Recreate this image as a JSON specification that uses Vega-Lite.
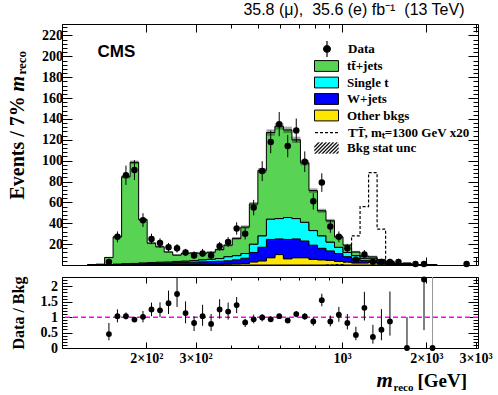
{
"$schema": "https://vega.github.io/schema/vega-lite/v6.json",
"background": "white",
"padding": {"left": 6, "top": 1, "right": 0, "bottom": 0},
"spacing": -4,
"config": {
 "view": {"stroke": "#000", "strokeWidth": 1},
 "axis": {"grid": false, "domain": false, "labelFont": "Liberation Serif", "labelFontWeight": "bold", "labelFontSize": 14, "labelColor": "#000", "tickColor": "#000", "tickWidth": 1, "titleFont": "Liberation Serif", "titleFontWeight": "bold", "titleColor": "#000", "labelOverlap": false, "labelFlush": false, "labelBound": false},
 "legend": {"labelFont": "Liberation Serif", "labelFontWeight": "bold", "labelFontSize": 13, "labelColor": "#000", "padding": 0, "labelLimit": 300}
},
"datasets": {
 "bins": [
  {"lo":123.379,"hi":132.329,"other":0,"wjets":0,"singlet":0,"ttbar":0},
  {"lo":132.329,"hi":141.929,"other":0,"wjets":0.3,"singlet":0.3,"ttbar":0,"bkg_lo":0.4,"bkg_hi":0.8},
  {"lo":141.929,"hi":152.225,"other":0,"wjets":0.2,"singlet":0.2,"ttbar":6.8,"bkg_lo":6.6,"bkg_hi":7.8},
  {"lo":152.225,"hi":163.268,"other":0.2,"wjets":0.4,"singlet":0.3,"ttbar":26.1,"bkg_lo":26.0,"bkg_hi":28.0},
  {"lo":163.268,"hi":175.112,"other":0.3,"wjets":0.5,"singlet":0.5,"ttbar":83.3,"bkg_lo":83.0,"bkg_hi":86.2},
  {"lo":175.112,"hi":187.815,"other":0.3,"wjets":0.6,"singlet":0.6,"ttbar":96.9,"bkg_lo":96.7,"bkg_hi":100.1},
  {"lo":187.815,"hi":201.44,"other":0.3,"wjets":1.0,"singlet":0.7,"ttbar":41.5,"bkg_lo":42.3,"bkg_hi":44.7},
  {"lo":201.44,"hi":216.053,"other":0.3,"wjets":1.2,"singlet":0.8,"ttbar":18.7,"bkg_lo":20.0,"bkg_hi":22.0},
  {"lo":216.053,"hi":231.726,"other":0.4,"wjets":1.4,"singlet":0.9,"ttbar":14.8,"bkg_lo":16.6,"bkg_hi":18.4},
  {"lo":231.726,"hi":248.536,"other":0.4,"wjets":1.5,"singlet":1.0,"ttbar":9.6,"bkg_lo":11.7,"bkg_hi":13.3},
  {"lo":248.536,"hi":266.565,"other":0.5,"wjets":1.8,"singlet":1.1,"ttbar":6.1,"bkg_lo":8.8,"bkg_hi":10.2},
  {"lo":266.565,"hi":285.903,"other":0.5,"wjets":2.0,"singlet":1.3,"ttbar":7.4,"bkg_lo":10.4,"bkg_hi":12.0},
  {"lo":285.903,"hi":306.643,"other":0.5,"wjets":2.2,"singlet":1.5,"ttbar":7.4,"bkg_lo":10.8,"bkg_hi":12.4},
  {"lo":306.643,"hi":328.887,"other":0.6,"wjets":2.4,"singlet":2.0,"ttbar":6.2,"bkg_lo":10.4,"bkg_hi":12.0},
  {"lo":328.887,"hi":352.745,"other":0.7,"wjets":2.6,"singlet":2.2,"ttbar":6.7,"bkg_lo":11.3,"bkg_hi":13.1},
  {"lo":352.745,"hi":378.335,"other":0.8,"wjets":2.8,"singlet":2.6,"ttbar":8.6,"bkg_lo":13.8,"bkg_hi":15.8},
  {"lo":378.335,"hi":405.78,"other":1.0,"wjets":3.0,"singlet":4.0,"ttbar":11.0,"bkg_lo":17.8,"bkg_hi":20.2},
  {"lo":405.78,"hi":435.216,"other":1.2,"wjets":3.8,"singlet":4.0,"ttbar":16.5,"bkg_lo":24.1,"bkg_hi":26.9},
  {"lo":435.216,"hi":466.788,"other":1.5,"wjets":5.0,"singlet":4.5,"ttbar":25.4,"bkg_lo":34.8,"bkg_hi":38.0},
  {"lo":466.788,"hi":500.65,"other":3.0,"wjets":9.0,"singlet":8.0,"ttbar":38.5,"bkg_lo":56.5,"bkg_hi":60.5},
  {"lo":500.65,"hi":536.968,"other":4.0,"wjets":13.0,"singlet":11.0,"ttbar":62.5,"bkg_lo":88.1,"bkg_hi":92.9},
  {"lo":536.968,"hi":575.921,"other":7.0,"wjets":17.5,"singlet":19.5,"ttbar":83.0,"bkg_lo":124.0,"bkg_hi":130.0},
  {"lo":575.921,"hi":617.7,"other":10.0,"wjets":15.0,"singlet":19.5,"ttbar":88.5,"bkg_lo":129.8,"bkg_hi":136.2},
  {"lo":617.7,"hi":662.509,"other":6.0,"wjets":18.5,"singlet":21.0,"ttbar":84.0,"bkg_lo":126.4,"bkg_hi":132.6},
  {"lo":662.509,"hi":710.569,"other":7.0,"wjets":18.0,"singlet":19.5,"ttbar":75.5,"bkg_lo":117.0,"bkg_hi":123.0},
  {"lo":710.569,"hi":762.116,"other":7.0,"wjets":16.0,"singlet":18.0,"ttbar":57.0,"bkg_lo":95.4,"bkg_hi":100.6},
  {"lo":762.116,"hi":817.401,"other":5.5,"wjets":13.5,"singlet":14.0,"ttbar":38.3,"bkg_lo":69.1,"bkg_hi":73.5},
  {"lo":817.401,"hi":876.697,"other":5.0,"wjets":11.0,"singlet":12.0,"ttbar":24.0,"bkg_lo":50.0,"bkg_hi":54.0},
  {"lo":876.697,"hi":940.295,"other":4.5,"wjets":9.0,"singlet":8.5,"ttbar":20.4,"bkg_lo":40.6,"bkg_hi":44.2},
  {"lo":940.295,"hi":1008.506,"other":3.5,"wjets":7.5,"singlet":6.0,"ttbar":10.0,"bkg_lo":25.5,"bkg_hi":28.5},
  {"lo":1008.506,"hi":1081.667,"other":3.0,"wjets":5.0,"singlet":4.0,"ttbar":7.0,"bkg_lo":17.7,"bkg_hi":20.3},
  {"lo":1081.667,"hi":1160.133,"other":2.0,"wjets":4.0,"singlet":3.0,"ttbar":3.5,"bkg_lo":11.4,"bkg_hi":13.6},
  {"lo":1160.133,"hi":1244.293,"other":2.0,"wjets":2.5,"singlet":2.0,"ttbar":2.0,"bkg_lo":7.5,"bkg_hi":9.5},
  {"lo":1244.293,"hi":1334.558,"other":2.5,"wjets":1.5,"singlet":2.0,"ttbar":1.8,"bkg_lo":6.6,"bkg_hi":9.0},
  {"lo":1334.558,"hi":1431.371,"other":1.0,"wjets":1.8,"singlet":1.2,"ttbar":1.1,"bkg_lo":4.2,"bkg_hi":6.0},
  {"lo":1431.371,"hi":1535.208,"other":0.6,"wjets":1.2,"singlet":0.8,"ttbar":0.9,"bkg_lo":2.8,"bkg_hi":4.2},
  {"lo":1535.208,"hi":1646.578,"other":0.2,"wjets":0.6,"singlet":0.4,"ttbar":0.3,"bkg_lo":0.9,"bkg_hi":2.1},
  {"lo":1646.578,"hi":1766.028,"other":0.2,"wjets":0.9,"singlet":0.4,"ttbar":0.3,"bkg_lo":1.1,"bkg_hi":2.5},
  {"lo":1766.028,"hi":1894.143,"other":0,"wjets":0,"singlet":0,"ttbar":0},
  {"lo":1894.143,"hi":2031.551,"other":0,"wjets":0.3,"singlet":0.15,"ttbar":0,"bkg_lo":0.15,"bkg_hi":0.75},
  {"lo":2031.551,"hi":2178.927,"other":0,"wjets":0.3,"singlet":0,"ttbar":0,"bkg_lo":0.0,"bkg_hi":0.6},
  {"lo":2178.927,"hi":2336.995,"other":0,"wjets":0,"singlet":0,"ttbar":0}
 ],
 "obs": [
  {"m":147.08,"n":3,"n_lo":1.37,"n_hi":5.92},
  {"m":157.75,"n":27,"n_lo":21.8,"n_hi":32.2},
  {"m":169.19,"n":86,"n_lo":76.7,"n_hi":95.3},
  {"m":181.46,"n":91,"n_lo":81.5,"n_hi":100.5},
  {"m":194.63,"n":43,"n_lo":36.4,"n_hi":49.6},
  {"m":208.75,"n":25,"n_lo":20,"n_hi":30},
  {"m":223.89,"n":21,"n_lo":16.4,"n_hi":25.6},
  {"m":240.13,"n":17,"n_lo":12.9,"n_hi":21.1},
  {"m":257.55,"n":16,"n_lo":12,"n_hi":20},
  {"m":276.23,"n":12,"n_lo":8.5,"n_hi":15.5},
  {"m":296.27,"n":9,"n_lo":6.06,"n_hi":13.1},
  {"m":317.76,"n":11,"n_lo":7.7,"n_hi":15.4},
  {"m":340.82,"n":9,"n_lo":6.06,"n_hi":13.1},
  {"m":365.54,"n":18,"n_lo":13.8,"n_hi":22.2},
  {"m":392.06,"n":22,"n_lo":17.3,"n_hi":26.7},
  {"m":420.5,"n":35,"n_lo":29.1,"n_hi":40.9},
  {"m":451.0,"n":30,"n_lo":24.5,"n_hi":35.5},
  {"m":483.72,"n":55,"n_lo":47.6,"n_hi":62.4},
  {"m":518.81,"n":90,"n_lo":80.5,"n_hi":99.5},
  {"m":556.44,"n":118,"n_lo":107.1,"n_hi":128.9},
  {"m":596.81,"n":135,"n_lo":123.4,"n_hi":146.6},
  {"m":640.1,"n":114,"n_lo":103.3,"n_hi":124.7},
  {"m":686.54,"n":129,"n_lo":117.6,"n_hi":140.4},
  {"m":736.34,"n":99,"n_lo":89.1,"n_hi":108.9},
  {"m":789.76,"n":61,"n_lo":53.2,"n_hi":68.8},
  {"m":847.05,"n":79,"n_lo":70.1,"n_hi":87.9},
  {"m":908.49,"n":37,"n_lo":30.9,"n_hi":43.1},
  {"m":974.4,"n":27,"n_lo":21.8,"n_hi":32.2},
  {"m":1045.08,"n":16,"n_lo":12,"n_hi":20},
  {"m":1120.9,"n":5,"n_lo":2.84,"n_hi":8.38},
  {"m":1202.21,"n":10,"n_lo":6.89,"n_hi":14.3},
  {"m":1289.42,"n":3,"n_lo":1.37,"n_hi":5.92},
  {"m":1382.96,"n":3,"n_lo":1.37,"n_hi":5.92},
  {"m":1483.28,"n":3,"n_lo":1.37,"n_hi":5.92},
  {"m":1590.89,"n":3,"n_lo":1.37,"n_hi":5.92},
  {"m":1830.08,"n":1,"n_lo":0.17,"n_hi":3.3},
  {"m":1962.84,"n":1,"n_lo":0.17,"n_hi":3.3},
  {"m":2785.87,"n":1,"n_lo":0.17,"n_hi":3.3}
 ],
 "ratio": [
  {"m":147.08,"r":0.45,"r_lo":0.25,"r_hi":0.81},
  {"m":157.75,"r":1.03,"r_lo":0.83,"r_hi":1.25},
  {"m":169.19,"r":1.03,"r_lo":0.92,"r_hi":1.15},
  {"m":181.46,"r":0.92,"r_lo":0.86,"r_hi":0.98},
  {"m":194.63,"r":1.01,"r_lo":0.83,"r_hi":1.2},
  {"m":208.75,"r":1.25,"r_lo":1.03,"r_hi":1.47},
  {"m":223.89,"r":1.22,"r_lo":1.0,"r_hi":1.48},
  {"m":240.13,"r":1.45,"r_lo":1.1,"r_hi":1.86},
  {"m":257.55,"r":1.75,"r_lo":1.33,"r_hi":2.35},
  {"m":276.23,"r":1.13,"r_lo":0.8,"r_hi":1.51},
  {"m":296.27,"r":0.81,"r_lo":0.55,"r_hi":1.03},
  {"m":317.76,"r":1.03,"r_lo":0.72,"r_hi":1.4},
  {"m":340.82,"r":0.78,"r_lo":0.55,"r_hi":1.1},
  {"m":365.54,"r":1.25,"r_lo":0.95,"r_hi":1.58},
  {"m":392.06,"r":1.18,"r_lo":0.92,"r_hi":1.47},
  {"m":420.5,"r":1.39,"r_lo":1.13,"r_hi":1.65},
  {"m":451.0,"r":0.83,"r_lo":0.68,"r_hi":0.94},
  {"m":483.72,"r":0.93,"r_lo":0.8,"r_hi":1.08},
  {"m":518.81,"r":0.99,"r_lo":0.86,"r_hi":1.1},
  {"m":556.44,"r":0.93,"r_lo":0.85,"r_hi":1.03},
  {"m":596.81,"r":1.03,"r_lo":0.94,"r_hi":1.1},
  {"m":640.1,"r":0.89,"r_lo":0.83,"r_hi":0.95},
  {"m":686.54,"r":1.1,"r_lo":1.0,"r_hi":1.2},
  {"m":736.34,"r":1.02,"r_lo":0.92,"r_hi":1.13},
  {"m":789.76,"r":0.86,"r_lo":0.72,"r_hi":0.99},
  {"m":847.05,"r":1.55,"r_lo":1.35,"r_hi":1.76},
  {"m":908.49,"r":0.86,"r_lo":0.7,"r_hi":1.05},
  {"m":974.4,"r":1.08,"r_lo":0.85,"r_hi":1.33},
  {"m":1045.08,"r":0.81,"r_lo":0.6,"r_hi":1.1},
  {"m":1120.9,"r":0.42,"r_lo":0.25,"r_hi":0.69},
  {"m":1202.21,"r":1.3,"r_lo":0.89,"r_hi":1.82},
  {"m":1289.42,"r":0.36,"r_lo":0.14,"r_hi":0.75},
  {"m":1382.96,"r":0.59,"r_lo":0.25,"r_hi":1.26},
  {"m":1483.28,"r":0.86,"r_lo":0.4,"r_hi":1.83},
  {"m":1706.3,"r":0,"r_lo":0,"r_hi":1.0},
  {"m":1962.84,"r":2.22,"r_lo":0.58,"r_hi":7.3},
  {"m":2105.23,"r":0,"r_lo":0,"r_hi":6.1}
 ],
 "signal": [
  {"lo":876.697,"n":0},
  {"lo":940.295,"n":0.5},
  {"lo":1008.506,"n":3},
  {"lo":1081.667,"n":28},
  {"lo":1160.133,"n":56},
  {"lo":1244.293,"n":88.5},
  {"lo":1334.558,"n":34.4},
  {"lo":1431.371,"n":1.5},
  {"lo":1535.208,"n":0.5},
  {"lo":1646.578,"n":0}
 ]
},
"vconcat": [
 {
  "width": 416, "height": 241,
  "title": {"text": "35.8 (\u03bc),\u00a0 35.6 (e) fb\u207b\u00b9\u00a0 (13 TeV)", "anchor": "end", "orient": "top", "font": "Liberation Sans", "fontSize": 16, "fontWeight": "normal", "color": "#000", "offset": -11, "baseline": "alphabetic", "dx": -14},
  "resolve": {"axis": {"x": "independent", "y": "independent"}},
  "layer": [
   {
    "data": {"name": "bins"},
    "transform": [
     {"fold": ["other", "wjets", "singlet", "ttbar"], "as": ["process", "events"]},
     {"window": [{"op": "row_number", "as": "stackpos"}], "groupby": ["lo"]}
    ],
    "mark": {"type": "area", "interpolate": "step-after", "stroke": "#000", "strokeWidth": 1, "clip": true},
    "encoding": {
     "x": {"field": "lo", "type": "quantitative", "scale": {"type": "log", "domain": [100, 3060], "nice": false},
      "axis": {"orient": "bottom", "values": [100,200,300,400,500,600,700,800,900,1000,2000,3000], "labels": false,
       "tickSize": {"condition": {"test": "indexof([100,200,300,1000,2000,3000], datum.value) >= 0", "value": -8}, "value": -4},
       "title": "m", "titleFontStyle": "italic", "titleFontSize": 20, "titleAngle": 270, "titleX": -39, "titleY": -174, "titleAlign": "left", "titleBaseline": "alphabetic"}},
     "y": {"field": "events", "type": "quantitative", "stack": "zero", "scale": {"domain": [0, 231], "nice": false},
      "axis": {"orient": "left", "values": [0,4,8,12,16,20,24,28,32,36,40,44,48,52,56,60,64,68,72,76,80,84,88,92,96,100,104,108,112,116,120,124,128,132,136,140,144,148,152,156,160,164,168,172,176,180,184,188,192,196,200,204,208,212,216,220,224,228],
       "labelExpr": "datum.value % 20 == 0 && datum.value > 0 ? '' + datum.value : ''",
       "tickSize": {"condition": {"test": "datum.value % 20 == 0", "value": -10}, "value": -5},
       "labelPadding": 9.6,
       "title": "Events / 7%", "titleFontSize": 20, "titleAngle": 270, "titleX": -39, "titleY": 175, "titleAlign": "left", "titleBaseline": "alphabetic"}},
     "color": {"field": "process", "type": "nominal",
      "scale": {"domain": ["ttbar", "singlet", "wjets", "other"], "range": ["#59d354", "#00ffff", "#0000ff", "#ffe600"]},
      "legend": {"orient": "none", "legendX": 258, "legendY": 35.5, "title": null, "symbolType": "M-2,-0.9L2,-0.9L2,0.9L-2,0.9Z", "symbolSize": 144, "symbolStrokeColor": "#000", "symbolStrokeWidth": 1, "labelOffset": 14, "rowPadding": 1.5,
       "labelExpr": "datum.label == 'ttbar' ? 'tt\u0304+jets' : datum.label == 'singlet' ? 'Single t' : datum.label == 'wjets' ? 'W+jets' : 'Other bkgs'"}},
     "order": {"field": "stackpos", "type": "quantitative", "sort": "ascending"}
    }
   },
   {
    "data": {"name": "bins"},
    "mark": {"type": "rect", "fillOpacity": 0.35},
    "encoding": {
     "x": {"field": "lo", "type": "quantitative", "scale": {"type": "log", "domain": [100, 3060], "nice": false}, "axis": null},
     "x2": {"field": "hi"},
     "y": {"field": "bkg_lo", "type": "quantitative", "axis": null},
     "y2": {"field": "bkg_hi"},
     "fill": {"datum": "Bkg stat unc", "type": "nominal", "scale": {"range": ["#000"]},
      "legend": {"orient": "none", "legendX": 258, "legendY": 117.5, "title": null, "symbolType": "M-2,0.9L-0.2,-0.9L0.04,-0.9L-1.76,0.9ZM-1.4,0.9L0.4,-0.9L0.64,-0.9L-1.16,0.9ZM-0.8,0.9L1,-0.9L1.24,-0.9L-0.56,0.9ZM-0.2,0.9L1.6,-0.9L1.84,-0.9L0.04,0.9ZM0.4,0.9L2,-0.7L2,-0.46L0.64,0.9ZM1,0.9L2,-0.1L2,0.14L1.24,0.9ZM1.6,0.9L2,0.5L2,0.74L1.84,0.9ZM-2,0.3L-0.8,-0.9L-0.56,-0.9L-2,0.54ZM-2,-0.3L-1.4,-0.9L-1.16,-0.9L-2,-0.06Z", "symbolSize": 144, "symbolStrokeColor": "#000", "symbolStrokeWidth": 0.3, "symbolOpacity": 1, "labelOffset": 14}}
    }
   },
   {
    "data": {"name": "signal"},
    "mark": {"type": "line", "interpolate": "step-after", "color": "#000", "strokeWidth": 1.2},
    "encoding": {
     "x": {"field": "lo", "type": "quantitative", "scale": {"type": "log", "domain": [100, 3060], "nice": false},
      "axis": {"orient": "top", "values": [100,200,300,400,500,600,700,800,900,1000,2000,3000], "labels": false,
       "tickSize": {"condition": {"test": "indexof([100,200,300,1000,2000,3000], datum.value) >= 0", "value": -8}, "value": -4}, "title": null}},
     "y": {"field": "n", "type": "quantitative",
      "axis": {"orient": "right", "values": [0,4,8,12,16,20,24,28,32,36,40,44,48,52,56,60,64,68,72,76,80,84,88,92,96,100,104,108,112,116,120,124,128,132,136,140,144,148,152,156,160,164,168,172,176,180,184,188,192,196,200,204,208,212,216,220,224,228], "labels": false,
       "tickSize": {"condition": {"test": "datum.value % 20 == 0", "value": -10}, "value": -5},
       "title": "reco", "titleFontSize": 13, "titleAngle": 270, "titleX": -453, "titleY": 50, "titleAlign": "left", "titleBaseline": "alphabetic"}},
     "strokeDash": {"datum": "TT\u0304, m\u209c=1300 GeV x20", "type": "nominal", "scale": {"range": [[3, 2]]},
      "legend": {"orient": "none", "legendX": 252, "legendY": 95.7, "title": null, "symbolType": "stroke", "symbolSize": 576, "symbolStrokeColor": "#000", "symbolStrokeWidth": 1.2, "labelOffset": 8}}
    }
   },
   {
    "data": {"name": "obs"},
    "mark": {"type": "rule", "strokeWidth": 1},
    "encoding": {
     "x": {"field": "m", "type": "quantitative", "axis": null},
     "y": {"field": "n_lo", "type": "quantitative", "axis": null},
     "y2": {"field": "n_hi"},
     "stroke": {"datum": "Data", "type": "nominal", "scale": {"range": ["#000"]},
      "legend": {"orient": "none", "legendX": 256, "legendY": 16, "title": null, "symbolType": "M0,-1L0,1M0.42,0A0.42,0.42,0,1,1,-0.42,0A0.42,0.42,0,1,1,0.42,0Z", "symbolSize": 256, "symbolFillColor": "#000", "symbolStrokeColor": "#000", "symbolStrokeWidth": 1.2, "labelOffset": 12}}
    }
   },
   {
    "data": {"name": "obs"},
    "mark": {"type": "point", "filled": true, "shape": "circle", "size": 42, "color": "#000", "opacity": 1},
    "encoding": {
     "x": {"field": "m", "type": "quantitative", "axis": null},
     "y": {"field": "n", "type": "quantitative", "axis": null}
    }
   },
   {
    "data": {"values": [{}]},
    "mark": {"type": "text", "text": "CMS", "font": "Liberation Sans", "fontWeight": "bold", "fontSize": 17, "align": "left", "baseline": "alphabetic", "color": "#000"},
    "encoding": {
     "x": {"datum": 134, "type": "quantitative", "axis": null},
     "y": {"datum": 199, "type": "quantitative", "axis": null}
    }
   }
  ]
 },
 {
  "width": 416, "height": 71,
  "resolve": {"axis": {"x": "independent", "y": "independent"}},
  "layer": [
   {
    "data": {"values": [{}]},
    "mark": {"type": "rule", "color": "#ff00ff", "strokeDash": [5, 3], "strokeWidth": 1.5},
    "encoding": {
     "y": {"datum": 1, "type": "quantitative", "scale": {"domain": [0, 2.3], "nice": false}, "axis": null}
    }
   },
   {
    "data": {"name": "ratio"},
    "mark": {"type": "rule", "strokeWidth": 1, "clip": true},
    "encoding": {
     "x": {"field": "m", "type": "quantitative", "scale": {"type": "log", "domain": [100, 3060], "nice": false},
      "axis": {"orient": "bottom", "values": [100,200,300,400,500,600,700,800,900,1000,2000,3000],
       "labelExpr": "datum.value == 200 ? '2\u00d710\u00b2' : datum.value == 300 ? '3\u00d710\u00b2' : datum.value == 1000 ? '10\u00b3' : datum.value == 2000 ? '2\u00d710\u00b3' : datum.value == 3000 ? '3\u00d710\u00b3' : ''",
       "tickSize": {"condition": {"test": "indexof([100,200,300,1000,2000,3000], datum.value) >= 0", "value": -6}, "value": -3},
       "labelPadding": 9.5,
       "title": "m", "titleFontStyle": "italic", "titleFontSize": 21, "titleAngle": 0, "titleX": 314, "titleY": 38.3, "titleAlign": "left", "titleBaseline": "alphabetic"}},
     "y": {"field": "r_lo", "type": "quantitative", "scale": {"domain": [0, 2.3], "nice": false},
      "axis": {"orient": "left", "values": [0,0.1,0.2,0.3,0.4,0.5,0.6,0.7,0.8,0.9,1,1.1,1.2,1.3,1.4,1.5,1.6,1.7,1.8,1.9,2,2.1,2.2,2.3],
       "labelExpr": "datum.value == 0 || datum.value == 0.5 || datum.value == 1 || datum.value == 1.5 || datum.value == 2 ? '' + datum.value : ''",
       "tickSize": {"condition": {"test": "datum.value == 0 || datum.value == 0.5 || datum.value == 1 || datum.value == 1.5 || datum.value == 2", "value": -10}, "value": -5},
       "labelPadding": 14.5,
       "title": "Data / Bkg", "titleFontSize": 16, "titleAngle": 270, "titleX": -39, "titleY": 35.5, "titleAlign": "center", "titleBaseline": "alphabetic"}},
     "y2": {"field": "r_hi"},
     "color": {"condition": {"test": "datum.r == 0 && datum.r_hi > 2", "value": "#999999"}, "value": "#000"}
    }
   },
   {
    "data": {"name": "ratio"},
    "mark": {"type": "point", "filled": true, "shape": "circle", "size": 34, "color": "#000", "opacity": 1},
    "encoding": {
     "x": {"field": "m", "type": "quantitative", "scale": {"type": "log", "domain": [100, 3060], "nice": false},
      "axis": {"orient": "top", "values": [100,200,300,400,500,600,700,800,900,1000,2000,3000], "labels": false,
       "tickSize": {"condition": {"test": "indexof([100,200,300,1000,2000,3000], datum.value) >= 0", "value": -6}, "value": -3},
       "title": "reco", "titleFontSize": 11, "titleFontStyle": "normal", "titleAngle": 0, "titleX": 331, "titleY": 113.3, "titleAlign": "left", "titleBaseline": "alphabetic"}},
     "y": {"field": "r", "type": "quantitative",
      "axis": {"orient": "right", "values": [0,0.1,0.2,0.3,0.4,0.5,0.6,0.7,0.8,0.9,1,1.1,1.2,1.3,1.4,1.5,1.6,1.7,1.8,1.9,2,2.1,2.2,2.3], "labels": false,
       "tickSize": {"condition": {"test": "datum.value == 0 || datum.value == 0.5 || datum.value == 1 || datum.value == 1.5 || datum.value == 2", "value": -10}, "value": -5},
       "title": "[GeV]", "titleFontSize": 19, "titleAngle": 0, "titleX": -61, "titleY": 109.3, "titleAlign": "left", "titleBaseline": "alphabetic"}}
    }
   }
  ]
 }
]
}
